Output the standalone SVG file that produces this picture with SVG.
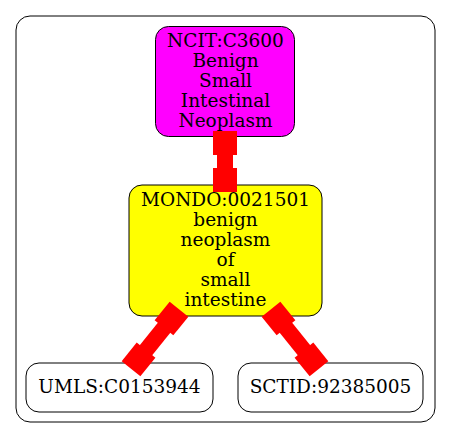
<svg xmlns="http://www.w3.org/2000/svg" width="451" height="439" viewBox="0 0 451 439">
<style>
.node{stroke:#000;stroke-width:1}
.t{font-family:"DejaVu Serif","Liberation Serif",serif;font-size:18.5px;text-anchor:middle;fill:#000}
.e{fill:#ff0000;stroke:none}
</style>
<defs>
<g id="boxcap"><rect x="-12" y="-12" width="24" height="24"/></g>
</defs>
<rect width="451" height="439" fill="#fff"/>
<g id="cluster">
<rect x="16" y="16" width="419" height="406" rx="14" fill="none" stroke="#000" stroke-width="1"/>
</g>
<g id="NCIT_C3600">
<rect class="node" x="155.5" y="26.5" width="139" height="110" rx="13" fill="#ff00ff"/>
<text class="t" x="225.5" y="46.5">NCIT:C3600</text>
<text class="t" x="225.5" y="66.5">Benign</text>
<text class="t" x="225.5" y="86.5">Small</text>
<text class="t" x="225.5" y="106.5">Intestinal</text>
<text class="t" x="225.5" y="126.5">Neoplasm</text>
</g>
<g id="MONDO_0021501">
<rect class="node" x="129" y="185" width="193" height="131" rx="13" fill="#ffff00"/>
<text class="t" x="225.5" y="206">MONDO:0021501</text>
<text class="t" x="225.5" y="226">benign</text>
<text class="t" x="225.5" y="246">neoplasm</text>
<text class="t" x="225.5" y="266">of</text>
<text class="t" x="225.5" y="286">small</text>
<text class="t" x="225.5" y="306">intestine</text>
</g>
<g id="UMLS_C0153944">
<rect class="node" x="26" y="363" width="187" height="49" rx="13" fill="#fff"/>
<text class="t" x="119.5" y="393">UMLS:C0153944</text>
</g>
<g id="SCTID_92385005">
<rect class="node" x="238" y="363" width="185" height="49" rx="13" fill="#fff"/>
<text class="t" x="330.5" y="393">SCTID:92385005</text>
</g>
<g id="connectors" class="e">
<g transform="translate(225,143) rotate(90)">
<rect x="0" y="-8" width="37" height="16"/>
<use href="#boxcap"/>
<use href="#boxcap" x="37"/>
</g>
<g transform="translate(171.5,318.5) rotate(128.8)">
<rect x="0" y="-8" width="52.6" height="16"/>
<use href="#boxcap"/>
<use href="#boxcap" x="52.6"/>
</g>
<g transform="translate(278.5,318.5) rotate(51.2)">
<rect x="0" y="-8" width="52.6" height="16"/>
<use href="#boxcap"/>
<use href="#boxcap" x="52.6"/>
</g>
</g>
</svg>
